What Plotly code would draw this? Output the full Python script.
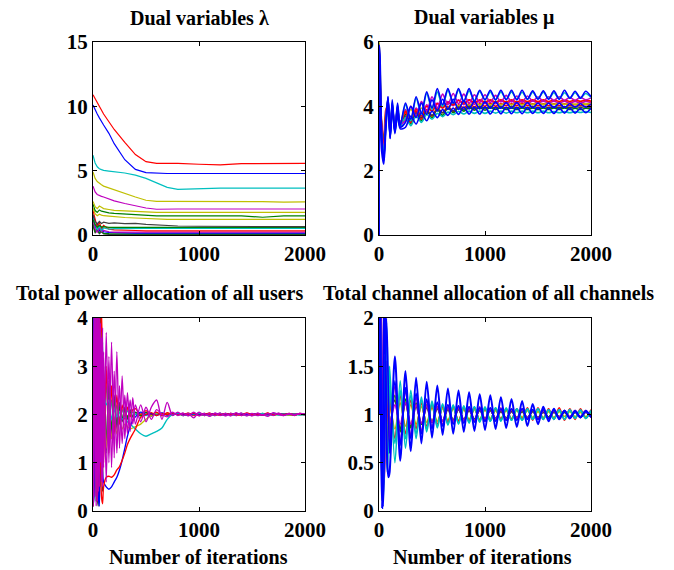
import plotly.graph_objects as go

# ---------------- DATA ----------------
X_TICKS = [0, 1000, 2000]
X_TICK_TEXT = ["0", "1000", "2000"]
LAM_TICKS = [0, 5, 10, 15]
MU_TICKS = [0, 2, 4, 6]
PW_TICKS = [0, 1, 2, 3, 4]
CH_TICKS = [0, 0.5, 1, 1.5, 2]
CH_TICK_TEXT = ["0", "0.5", "1", "1.5", "2"]

TITLES = ["Dual variables \u03bb", "Dual variables \u03bc",
          "Total power allocation of all users", "Total channel allocation of all channels"]
XLABEL = "Number of iterations"

# ---- Dual variables lambda ----
LAM_X = [0, 20, 40, 60, 80, 100, 150, 200, 300, 400, 500, 600, 700, 800, 1000, 1200, 1400, 1600, 1800, 2000]
lam_red = [10.9, 10.6, 10.3, 10.0, 9.7, 9.4, 8.8, 8.2, 7.2, 6.25, 5.7, 5.57, 5.57, 5.57, 5.5, 5.45, 5.55, 5.57, 5.57, 5.57]
lam_blue = [10.1, 9.7, 9.4, 9.1, 8.8, 8.55, 7.9, 7.1, 5.85, 5.1, 4.85, 4.8, 4.78, 4.78, 4.78, 4.78, 4.78, 4.78, 4.78, 4.78]
lam_cyan = [6.2, 5.6, 5.3, 5.15, 5.08, 5.02, 4.97, 4.92, 4.82, 4.65, 4.4, 4.05, 3.7, 3.55, 3.62, 3.65, 3.65, 3.65, 3.65, 3.65]
lam_yellow = [4.9, 4.4, 4.15, 4.0, 3.9, 3.8, 3.65, 3.5, 3.2, 2.95, 2.7, 2.62, 2.62, 2.62, 2.6, 2.58, 2.6, 2.6, 2.55, 2.58]
lam_magenta = [3.8, 3.35, 3.15, 3.05, 3.0, 2.95, 2.8, 2.65, 2.45, 2.25, 2.1, 2.0, 2.02, 2.02, 2.02, 2.02, 2.02, 2.02, 2.02, 2.02]
lam_yellow2 = [2.6, 2.2, 2.05, 2.25, 2.15, 2.05, 1.98, 1.92, 1.88, 1.83, 1.8, 1.76, 1.76, 1.76, 1.76, 1.76, 1.76, 1.76, 1.76, 1.76]
lam_green = [2.4, 1.9, 1.75, 1.95, 1.85, 1.8, 1.72, 1.68, 1.62, 1.56, 1.5, 1.48, 1.48, 1.48, 1.48, 1.45, 1.48, 1.38, 1.48, 1.48]
lam_yellow3 = [2.1, 1.65, 1.5, 1.62, 1.55, 1.5, 1.46, 1.42, 1.36, 1.32, 1.28, 1.25, 1.22, 1.22, 1.22, 1.22, 1.22, 1.22, 1.22, 1.22]
lam_gray = [1.6, 1.05, 0.85, 1.05, 0.9, 1.0, 0.9, 0.95, 0.88, 0.9, 0.82, 0.78, 0.72, 0.7, 0.68, 0.66, 0.65, 0.65, 0.65, 0.65]
lam_green3 = [1.2, 0.8, 0.6, 0.75, 0.62, 0.65, 0.6, 0.6, 0.6, 0.6, 0.6, 0.6, 0.6, 0.6, 0.6, 0.6, 0.6, 0.6, 0.6, 0.6]
lam_cyan2 = [1.3, 0.75, 0.4, 0.7, 0.35, 0.55, 0.45, 0.5, 0.52, 0.52, 0.52, 0.52, 0.52, 0.52, 0.52, 0.52, 0.52, 0.52, 0.52, 0.52]
lam_red2 = [1.9, 1.2, 0.6, 1.0, 0.5, 0.75, 0.45, 0.4, 0.35, 0.35, 0.32, 0.32, 0.32, 0.32, 0.32, 0.32, 0.32, 0.32, 0.32, 0.32]
lam_magenta2 = [1.1, 0.5, 0.2, 0.55, 0.25, 0.35, 0.25, 0.22, 0.22, 0.22, 0.22, 0.22, 0.22, 0.22, 0.22, 0.22, 0.22, 0.22, 0.22, 0.22]
lam_blue2 = [1.5, 0.55, 0.95, 0.3, 0.65, 0.25, 0.2, 0.18, 0.16, 0.15, 0.15, 0.15, 0.15, 0.15, 0.15, 0.15, 0.15, 0.15, 0.15, 0.15]
lam_green2 = [0.9, 0.25, 0.55, 0.15, 0.4, 0.12, 0.1, 0.08, 0.08, 0.08, 0.08, 0.08, 0.08, 0.08, 0.08, 0.08, 0.08, 0.08, 0.08, 0.08]
lam_gray2 = [0.7, 0.15, 0.4, 0.1, 0.25, 0.08, 0.05, 0.04, 0.04, 0.04, 0.04, 0.04, 0.04, 0.04, 0.04, 0.04, 0.04, 0.04, 0.04, 0.04]

# ---- Dual variables mu ----
MU_X = [0, 2, 10, 25, 45, 65, 85, 105, 125, 150, 175, 200,
        250, 300, 350, 400, 450, 500, 550, 600, 650, 700, 750, 800, 850, 900, 950, 1000,
        1050, 1100, 1150, 1200, 1250, 1300, 1350, 1400, 1450, 1500, 1550, 1600, 1650, 1700,
        1750, 1800, 1850, 1900, 1950, 2000]
mu_blue = [0, 5.9, 5.2, 3.0, 2.3, 3.5, 4.3, 3.0, 4.2, 3.2, 4.1, 3.4,
           4.1, 3.6, 4.3, 3.8, 4.45, 3.95, 4.55, 4.05, 4.55, 4.1, 4.55, 4.15, 4.55, 4.15, 4.5, 4.2,
           4.5, 4.2, 4.5, 4.2, 4.5, 4.2, 4.5, 4.22, 4.48, 4.22, 4.48, 4.22, 4.48, 4.22,
           4.5, 4.25, 4.47, 4.25, 4.47, 4.3]
mu_green = [0, 5.7, 4.8, 3.3, 2.7, 3.7, 4.1, 3.3, 3.9, 3.35, 3.8, 3.45,
            3.75, 3.45, 3.8, 3.55, 3.85, 3.65, 3.9, 3.72, 3.95, 3.8, 3.95, 3.85, 3.96, 3.88, 3.96, 3.88,
            3.96, 3.9, 3.96, 3.9, 3.95, 3.9, 3.95, 3.9, 3.95, 3.9, 3.95, 3.9, 3.95, 3.9,
            3.95, 3.9, 3.94, 3.9, 3.94, 3.92]
mu_red = [0, 5.6, 4.6, 3.5, 2.9, 3.9, 4.0, 3.4, 3.8, 3.4, 3.75, 3.5,
          3.8, 3.5, 3.85, 3.6, 3.9, 3.7, 3.95, 3.8, 4.0, 3.85, 4.05, 3.95, 4.08, 3.98, 4.08, 4.0,
          4.1, 4.0, 4.08, 4.02, 4.08, 4.02, 4.1, 4.02, 4.08, 4.02, 4.08, 4.02, 4.08, 4.02,
          4.08, 4.02, 4.06, 4.02, 4.06, 4.04]
mu_cyan = [0, 5.8, 5.0, 3.1, 2.5, 3.6, 4.25, 3.1, 4.15, 3.25, 4.05, 3.4,
           4.05, 3.55, 4.25, 3.75, 4.4, 3.9, 4.45, 4.0, 4.5, 4.1, 4.5, 4.15, 4.48, 4.18, 4.46, 4.2,
           4.45, 4.2, 4.45, 4.22, 4.45, 4.22, 4.44, 4.22, 4.44, 4.24, 4.44, 4.24, 4.42, 4.24,
           4.42, 4.26, 4.42, 4.26, 4.4, 4.28]
mu_magenta = [0, 5.8, 4.9, 3.2, 2.6, 3.7, 4.2, 3.15, 4.05, 3.3, 3.95, 3.45,
              3.55, 4.0, 3.7, 4.15, 3.85, 4.3, 3.95, 4.38, 4.05, 4.4, 4.08, 4.38, 4.1, 4.36, 4.12, 4.36,
              4.12, 4.34, 4.14, 4.34, 4.14, 4.32, 4.14, 4.32, 4.16, 4.3, 4.16, 4.3, 4.18, 4.3,
              4.18, 4.28, 4.18, 4.28, 4.2, 4.26]
mu_yellow = [0, 6.0, 5.3, 3.4, 2.8, 3.8, 4.1, 3.35, 3.9, 3.4, 3.8, 3.5,
             3.6, 3.9, 3.7, 3.95, 3.8, 4.0, 3.88, 4.05, 3.95, 4.1, 4.0, 4.12, 4.02, 4.12, 4.04, 4.12,
             4.04, 4.12, 4.05, 4.12, 4.05, 4.12, 4.05, 4.12, 4.06, 4.12, 4.06, 4.12, 4.06, 4.1,
             4.06, 4.1, 4.06, 4.1, 4.07, 4.1]
mu_gray = [0, 5.5, 4.5, 3.4, 2.8, 3.75, 4.0, 3.4, 3.8, 3.45, 3.75, 3.5,
           3.7, 3.55, 3.78, 3.65, 3.85, 3.72, 3.9, 3.8, 3.95, 3.85, 3.98, 3.9, 4.0, 3.92, 4.0, 3.94,
           4.0, 3.95, 4.0, 3.95, 4.0, 3.96, 4.0, 3.96, 4.0, 3.96, 4.0, 3.96, 3.99, 3.96,
           3.99, 3.96, 3.99, 3.97, 3.99, 3.97]
mu_blue2 = [0, 5.7, 4.0, 2.6, 2.2, 3.3, 4.1, 3.0, 3.9, 3.15, 3.75, 3.3,
            3.35, 3.7, 3.45, 3.8, 3.55, 3.85, 3.65, 3.9, 3.72, 3.95, 3.75, 3.98, 3.76, 3.98, 3.76, 3.98,
            3.76, 3.97, 3.77, 3.97, 3.77, 3.96, 3.77, 3.96, 3.78, 3.96, 3.78, 3.95, 3.78, 3.95,
            3.79, 3.95, 3.79, 3.94, 3.8, 3.94]
mu_magenta2 = [0, 5.6, 4.7, 3.3, 2.7, 3.65, 4.2, 3.2, 4.0, 3.35, 3.9, 3.45,
               3.9, 3.6, 3.95, 3.7, 4.05, 3.85, 4.1, 3.95, 4.15, 4.02, 4.2, 4.05, 4.2, 4.06, 4.18, 4.08,
               4.18, 4.08, 4.18, 4.08, 4.17, 4.08, 4.17, 4.08, 4.17, 4.1, 4.16, 4.1, 4.16, 4.1,
               4.16, 4.1, 4.15, 4.1, 4.15, 4.12]
mu_cyan2 = [0, 5.5, 4.3, 2.9, 2.4, 3.4, 4.0, 3.05, 3.85, 3.2, 3.7, 3.35,
            3.65, 3.4, 3.7, 3.5, 3.75, 3.6, 3.78, 3.68, 3.82, 3.74, 3.84, 3.76, 3.85, 3.78, 3.85, 3.78,
            3.85, 3.79, 3.85, 3.79, 3.85, 3.8, 3.85, 3.8, 3.85, 3.8, 3.85, 3.8, 3.84, 3.8,
            3.84, 3.8, 3.84, 3.81, 3.84, 3.81]
mu_red2 = [0, 5.75, 4.9, 3.3, 2.65, 3.7, 4.15, 3.25, 3.95, 3.35, 3.85, 3.45,
           3.85, 3.6, 3.9, 3.7, 4.0, 3.85, 4.08, 3.95, 4.12, 4.05, 4.18, 4.1, 4.2, 4.12, 4.2, 4.14,
           4.2, 4.14, 4.2, 4.14, 4.2, 4.14, 4.2, 4.15, 4.2, 4.15, 4.2, 4.15, 4.19, 4.15,
           4.19, 4.15, 4.19, 4.16, 4.19, 4.16]
mu_blue3 = [0, 5.9, 5.5, 3.2, 2.4, 3.5, 4.3, 3.05, 4.1, 3.2, 4.0, 3.35,
            3.5, 4.0, 3.65, 4.1, 3.75, 4.2, 3.85, 4.22, 3.9, 4.22, 3.9, 4.18, 3.92, 4.16, 3.92, 4.14,
            3.94, 4.14, 3.94, 4.12, 3.94, 4.12, 3.95, 4.12, 3.95, 4.1, 3.96, 4.1, 3.96, 4.1,
            3.96, 4.08, 3.97, 4.08, 3.97, 4.07]

# ---- Total power allocation ----
PW_X = [0, 10, 20, 30, 40, 50, 60, 70, 80, 90, 100,
        125, 150, 175, 200, 225, 250, 275, 300, 325, 350, 375, 400,
        450, 500, 550, 600, 650, 700, 750, 800,
        850, 900, 950, 1000, 1050, 1100, 1150, 1200, 1250, 1300, 1350, 1400,
        1450, 1500, 1550, 1600, 1650, 1700, 1750, 1800, 1850, 1900, 1950, 2000]
pw_magenta = [0.1, 4.5, 0.3, 4.5, 0.2, 4.2, 0.5, 3.9, 0.6, 3.8, 0.9,
              3.7, 1.0, 3.5, 1.1, 3.3, 1.3, 2.8, 1.5, 2.45, 1.65, 2.35, 1.8,
              2.2, 1.85, 2.15, 2.3, 1.9, 2.25, 1.98, 2.05,
              1.98, 2.02, 1.93, 2.05, 1.98, 2.02, 1.98, 2.03, 1.97, 2.02, 1.98, 2.03,
              1.97, 2.02, 1.98, 2.0, 1.96, 2.04, 2.0, 1.98, 2.02, 1.99, 2.02, 2.0]
pw_magenta2 = [0.2, 3.0, 4.5, 0.1, 4.5, 0.4, 4.0, 1.0, 3.6, 0.5, 3.3,
               0.6, 3.2, 0.9, 2.9, 1.2, 2.6, 1.4, 2.4, 1.6, 2.3, 1.8, 2.2,
               1.85, 2.15, 1.9, 2.1, 2.0, 1.95, 2.05, 1.98,
               2.03, 1.97, 2.05, 1.97, 2.02, 1.96, 2.03, 1.98, 2.02, 1.97, 2.04, 1.98,
               2.02, 1.97, 2.03, 1.99, 2.02, 1.98, 2.03, 1.98, 2.01, 1.99, 2.02, 2.0]
pw_blue = [0.1, 0.3, 4.5, 4.5, 2.0, 0.3, 0.1, 1.5, 1.2, 0.8, 0.6,
           0.5, 0.45, 0.5, 0.6, 0.7, 0.85, 1.05, 1.3, 1.55, 1.75, 1.88, 1.95,
           2.05, 2.0, 2.02, 1.98, 2.03, 1.99, 2.02, 2.0,
           2.01, 1.99, 2.02, 1.99, 2.01, 2.0, 2.02, 1.99, 2.01, 2.0, 2.02, 1.99,
           2.01, 2.0, 2.01, 1.99, 2.01, 2.0, 2.01, 2.0, 2.01, 2.0, 2.01, 2.0]
pw_red = [0.1, 4.5, 4.5, 1.0, 0.2, 2.5, 4.5, 2.0, 0.3, 0.15, 0.5,
          0.7, 0.72, 0.7, 0.75, 0.85, 0.92, 1.05, 1.2, 1.38, 1.5, 1.6, 1.7,
          1.94, 2.0, 2.04, 1.98, 2.02, 2.0, 2.03, 1.99,
          2.02, 2.0, 2.03, 1.98, 2.02, 2.0, 2.01, 1.99, 2.02, 2.0, 2.01, 1.98,
          2.03, 2.0, 2.01, 1.99, 2.02, 2.0, 2.01, 1.99, 2.02, 2.0, 2.01, 2.0]
pw_cyan = [0.2, 4.5, 3.0, 4.5, 0.5, 4.0, 2.5, 3.8, 2.8, 2.3, 2.4,
           2.2, 2.3, 1.9, 2.1, 1.95, 2.05, 1.9, 1.95, 1.85, 1.8, 1.75, 1.7,
           1.6, 1.55, 1.6, 1.65, 1.72, 1.9, 2.0, 2.02,
           1.98, 2.02, 2.0, 2.03, 1.99, 2.01, 1.98, 2.02, 2.0, 2.01, 1.99, 2.02,
           1.98, 2.01, 2.0, 2.02, 1.99, 2.0, 2.02, 1.99, 2.01, 2.0, 2.01, 2.0]
pw_yellow = [0.3, 1.5, 4.5, 2.0, 0.8, 4.5, 1.2, 0.7, 2.5, 1.4, 2.2,
             1.3, 2.0, 1.5, 1.95, 1.6, 1.85, 1.7, 1.8, 1.75, 1.7, 1.72, 1.75,
             1.8, 1.9, 1.98, 2.02, 1.99, 2.01, 2.0, 2.02,
             1.99, 2.01, 2.0, 2.02, 1.98, 2.01, 1.99, 2.02, 2.0, 2.01, 1.99, 2.0,
             2.02, 1.99, 2.01, 2.0, 2.02, 1.99, 2.0, 2.01, 1.99, 2.01, 2.0, 2.0]
pw_green = [0.1, 4.5, 1.0, 0.2, 3.5, 4.5, 0.6, 1.8, 2.9, 0.9, 2.6,
            1.4, 2.5, 1.7, 2.3, 1.8, 2.15, 1.9, 2.1, 1.95, 2.05, 1.95, 2.04,
            1.98, 2.04, 1.97, 2.03, 1.98, 2.02, 2.0, 2.02,
            1.98, 2.01, 2.0, 2.02, 1.99, 2.01, 1.98, 2.02, 2.0, 2.01, 1.99, 2.02,
            2.0, 1.99, 2.01, 2.0, 2.02, 1.99, 2.01, 2.0, 2.01, 1.99, 2.01, 2.0]
pw_gray = [0.2, 4.5, 4.5, 4.5, 0.3, 0.1, 3.0, 4.5, 1.5, 0.4, 3.0,
           1.2, 2.7, 1.5, 2.4, 1.7, 2.25, 1.85, 2.15, 1.9, 2.1, 1.95, 2.05,
           1.97, 2.05, 1.98, 2.04, 1.98, 2.02, 1.99, 2.03,
           1.98, 2.01, 2.0, 2.02, 1.98, 2.02, 2.0, 2.01, 1.99, 2.02, 2.0, 2.01,
           1.99, 2.01, 2.0, 2.02, 1.99, 2.01, 2.0, 2.01, 1.99, 2.01, 2.0, 2.0]
pw_red2 = [0.1, 0.5, 2.5, 4.5, 4.5, 0.5, 0.2, 2.8, 4.2, 3.0, 1.0,
           3.0, 1.2, 2.6, 1.6, 2.4, 1.8, 2.2, 1.9, 2.15, 1.95, 2.1, 2.12,
           2.0, 2.08, 2.0, 2.05, 1.98, 2.04, 2.0, 2.02,
           1.99, 2.03, 1.98, 2.02, 2.0, 2.03, 1.99, 2.01, 2.0, 2.02, 1.98, 2.01,
           2.02, 1.99, 2.01, 2.0, 2.03, 1.99, 2.02, 2.0, 2.01, 1.98, 2.02, 2.0]
pw_cyan2 = [0.1, 2.0, 4.5, 0.4, 1.5, 4.5, 3.8, 0.5, 1.2, 3.5, 2.0,
            2.6, 1.6, 2.3, 1.8, 2.2, 1.9, 2.1, 1.95, 2.08, 1.98, 2.05, 2.0,
            2.03, 1.98, 2.02, 2.0, 2.03, 1.99, 2.01, 2.0,
            2.02, 1.99, 2.01, 2.0, 2.02, 1.98, 2.01, 2.0, 2.02, 1.99, 2.01, 2.0,
            2.02, 1.99, 2.0, 2.01, 2.0, 2.02, 1.99, 2.01, 2.0, 2.01, 1.99, 2.0]

# ---- Total channel allocation ----
CH_X = [0, 10, 20, 30, 40, 50, 60, 70, 80, 90,
        100, 150, 200, 250, 300, 350, 400, 450, 500, 550,
        600, 650, 700, 750, 800, 850, 900, 950, 1000, 1050,
        1100, 1150, 1200, 1250, 1300, 1350, 1400, 1450, 1500, 1550,
        1600, 1650, 1700, 1750, 1800, 1850, 1900, 1950, 2000]
ch_blue = [1.0, 2.4, 0.6, 0.03, 1.2, 2.4, 1.8, 0.9, 0.45, 0.35,
           0.4, 1.6, 0.52, 1.45, 0.62, 1.38, 0.7, 1.34, 0.76, 1.3,
           0.79, 1.27, 0.8, 1.25, 0.82, 1.23, 0.83, 1.21, 0.84, 1.2,
           0.85, 1.18, 0.86, 1.16, 0.87, 1.14, 0.88, 1.11, 0.9, 1.08,
           0.93, 1.06, 0.95, 1.04, 0.96, 1.03, 0.97, 1.03, 0.98]
ch_cyan = [1.0, 2.2, 1.4, 0.3, 0.1, 0.6, 1.4, 1.95, 1.6, 1.0,
           1.5, 0.5, 1.35, 0.65, 1.25, 0.75, 1.18, 0.82, 1.14, 0.86,
           1.11, 0.89, 1.1, 0.9, 1.09, 0.91, 1.08, 0.92, 1.08, 0.93,
           1.07, 0.93, 1.07, 0.94, 1.06, 0.94, 1.06, 0.95, 1.06, 0.95,
           1.05, 0.95, 1.05, 0.95, 1.05, 0.96, 1.04, 0.96, 1.04]
ch_magenta = [1.0, 2.4, 1.5, 0.4, 0.15, 0.5, 1.2, 1.55, 1.5, 1.1,
              0.7, 1.3, 0.7, 1.25, 0.78, 1.18, 0.83, 1.14, 0.87, 1.12,
              0.9, 1.1, 0.91, 1.09, 0.92, 1.08, 0.93, 1.08, 0.93, 1.07,
              0.94, 1.07, 0.94, 1.06, 0.95, 1.06, 0.95, 1.05, 0.95, 1.05,
              0.96, 1.05, 0.96, 1.04, 0.96, 1.04, 0.97, 1.04, 0.97]
ch_red = [1.0, 1.5, 2.2, 1.0, 0.3, 0.5, 1.0, 1.4, 1.2, 0.9,
          1.2, 0.75, 1.2, 0.8, 1.15, 0.85, 1.12, 0.88, 1.1, 0.9,
          1.08, 0.92, 1.08, 0.93, 1.07, 0.93, 1.07, 0.94, 1.06, 0.94,
          1.06, 0.95, 1.06, 0.95, 1.06, 0.95, 1.07, 0.94, 1.07, 0.95,
          1.06, 0.95, 1.07, 0.94, 1.06, 0.95, 1.06, 0.96, 1.05]
ch_green = [1.0, 2.0, 1.7, 0.6, 0.25, 0.4, 0.9, 1.3, 1.35, 1.15,
            0.85, 1.2, 0.82, 1.16, 0.86, 1.12, 0.9, 1.1, 0.92, 1.08,
            0.93, 1.07, 0.94, 1.07, 0.94, 1.06, 0.95, 1.06, 0.95, 1.05,
            0.95, 1.05, 0.96, 1.05, 0.96, 1.04, 0.96, 1.04, 0.96, 1.04,
            0.97, 1.04, 0.97, 1.03, 0.97, 1.03, 0.97, 1.03, 0.98]
ch_yellow = [1.0, 2.3, 0.9, 0.1, 0.6, 1.5, 1.5, 1.0, 0.6, 0.7,
             1.1, 0.85, 1.12, 0.88, 1.1, 0.9, 1.08, 0.92, 1.07, 0.93,
             1.06, 0.94, 1.06, 0.94, 1.05, 0.95, 1.05, 0.95, 1.05, 0.96,
             1.04, 0.96, 1.04, 0.96, 1.04, 0.97, 1.04, 0.97, 1.03, 0.97,
             1.03, 0.97, 1.03, 0.98, 1.03, 0.98, 1.02, 0.98, 1.02]
ch_gray = [1.0, 2.2, 1.0, 0.2, 0.5, 1.3, 1.6, 1.2, 0.7, 0.6,
           0.8, 1.15, 0.85, 1.12, 0.88, 1.08, 0.9, 1.07, 0.92, 1.06,
           0.93, 1.05, 0.94, 1.05, 0.95, 1.04, 0.95, 1.04, 0.96, 1.04,
           0.96, 1.03, 0.96, 1.03, 0.97, 1.03, 0.97, 1.03, 0.97, 1.02,
           0.97, 1.02, 0.98, 1.02, 0.98, 1.02, 0.98, 1.02, 0.98]
ch_blue2 = [1.0, 2.4, 1.3, 0.2, 0.05, 0.6, 1.5, 2.0, 1.7, 1.1,
            0.6, 1.35, 0.68, 1.28, 0.75, 1.22, 0.8, 1.16, 0.85, 1.13,
            0.88, 1.1, 0.9, 1.09, 0.91, 1.08, 0.92, 1.07, 0.93, 1.07,
            0.93, 1.06, 0.94, 1.06, 0.94, 1.06, 0.95, 1.05, 0.95, 1.05,
            0.96, 1.05, 0.96, 1.04, 0.96, 1.04, 0.97, 1.04, 0.97]
ch_cyan2 = [1.0, 1.9, 0.8, 0.2, 0.8, 1.6, 1.3, 0.6, 0.4, 0.8,
            1.3, 0.7, 1.25, 0.75, 1.2, 0.8, 1.15, 0.85, 1.12, 0.88,
            1.1, 0.9, 1.09, 0.91, 1.08, 0.92, 1.08, 0.93, 1.07, 0.93,
            1.07, 0.94, 1.06, 0.94, 1.06, 0.94, 1.06, 0.95, 1.06, 0.95,
            1.05, 0.95, 1.05, 0.95, 1.05, 0.96, 1.05, 0.96, 1.04]
ch_magenta2 = [1.0, 1.6, 2.1, 1.2, 0.4, 0.3, 0.9, 1.5, 1.5, 1.2,
               0.9, 1.1, 0.9, 1.12, 0.9, 1.1, 0.91, 1.09, 0.92, 1.08,
               0.93, 1.07, 0.93, 1.07, 0.94, 1.06, 0.94, 1.06, 0.95, 1.06,
               0.95, 1.05, 0.95, 1.05, 0.96, 1.05, 0.96, 1.05, 0.96, 1.04,
               0.96, 1.04, 0.97, 1.04, 0.97, 1.04, 0.97, 1.03, 0.97]

# ---------------- STYLE ----------------
B = "rgb(0,0,255)"
G = "rgb(0,128,0)"
R = "rgb(255,0,0)"
C = "rgb(0,191,191)"
M = "rgb(191,0,191)"
Y = "rgb(191,191,0)"
K = "rgb(64,64,64)"
FONT = "Liberation Serif"

panels = [
    ("x", "y", LAM_X, "linear", 1.2,
     [(lam_gray2, K), (lam_green2, G), (lam_blue2, B), (lam_magenta2, M),
      (lam_red2, R), (lam_cyan2, C), (lam_green3, G), (lam_gray, K),
      (lam_yellow3, Y), (lam_green, G), (lam_yellow2, Y), (lam_magenta, M),
      (lam_yellow, Y), (lam_cyan, C), (lam_blue, B), (lam_red, R)]),
    ("x2", "y2", MU_X, "spline", 1.6,
     [(mu_green, G), (mu_red, R), (mu_yellow, Y), (mu_gray, K), (mu_cyan2, C),
      (mu_magenta2, M), (mu_red2, R), (mu_magenta, M), (mu_cyan, C),
      (mu_blue3, B), (mu_blue2, B), (mu_blue, B)]),
    ("x3", "y3", PW_X, "spline", 1.35,
     [(pw_gray, K), (pw_green, G), (pw_yellow, Y), (pw_cyan2, C), (pw_red2, R),
      (pw_cyan, C), (pw_blue, B), (pw_red, R), (pw_magenta2, M), (pw_magenta, M)]),
    ("x4", "y4", CH_X, "spline", 1.6,
     [(ch_gray, K), (ch_green, G), (ch_yellow, Y), (ch_red, R), (ch_magenta2, M),
      (ch_cyan2, C), (ch_magenta, M), (ch_cyan, C), (ch_blue2, B), (ch_blue, B)]),
]

fig = go.Figure()
for xa, ya, xs, shape, lw, series in panels:
    for ys, col in series:
        if len(ys) != len(xs):
            raise ValueError(f"length mismatch in {xa}: {len(ys)} vs {len(xs)}")
        w = 2.0 if (xa == "x4" and ys is ch_blue) else lw
        fig.add_trace(go.Scatter(x=xs, y=ys, xaxis=xa, yaxis=ya, mode="lines",
                                 line=dict(color=col, width=w, shape=shape, smoothing=0.8),
                                 showlegend=False, hoverinfo="skip"))


def W(px):
    return px / 674.0


def H(px):
    return 1 - px / 570.0


tickfont = dict(family=FONT, size=21, color="black", weight="bold")
common = dict(showline=True, linecolor="black", linewidth=1.2, mirror="ticks",
              ticks="inside", ticklen=4, tickcolor="black", tickwidth=1,
              showgrid=False, zeroline=False, tickfont=tickfont, fixedrange=True,
              automargin=False)

xdom_l = [W(93), W(305)]
xdom_r = [W(379), W(591)]
ydom_t = [H(235), H(42)]
ydom_b = [H(511), H(318)]

layout = dict(
    template="none",
    width=674, height=570, margin=dict(l=0, r=0, t=0, b=0, pad=0, autoexpand=False),
    paper_bgcolor="white", plot_bgcolor="white", showlegend=False,
    xaxis=dict(domain=xdom_l, anchor="y", range=[0, 2000], tickvals=X_TICKS, ticktext=X_TICK_TEXT, **common),
    yaxis=dict(domain=ydom_t, anchor="x", range=[0, 15], tickvals=LAM_TICKS, **common),
    xaxis2=dict(domain=xdom_r, anchor="y2", range=[0, 2000], tickvals=X_TICKS, ticktext=X_TICK_TEXT, **common),
    yaxis2=dict(domain=ydom_t, anchor="x2", range=[0, 6], tickvals=MU_TICKS, **common),
    xaxis3=dict(domain=xdom_l, anchor="y3", range=[0, 2000], tickvals=X_TICKS, ticktext=X_TICK_TEXT, **common),
    yaxis3=dict(domain=ydom_b, anchor="x3", range=[0, 4], tickvals=PW_TICKS, **common),
    xaxis4=dict(domain=xdom_r, anchor="y4", range=[0, 2000], tickvals=X_TICKS, ticktext=X_TICK_TEXT, **common),
    yaxis4=dict(domain=ydom_b, anchor="x4", range=[0, 2], tickvals=CH_TICKS, ticktext=CH_TICK_TEXT, **common),
)
fig.update_layout(**layout)

title_font = dict(family=FONT, size=20, color="black", weight="bold")
title_pos = [(199, 18), (484, 18), (159, 293), (488, 293), (198, 557), (482, 557)]
texts = TITLES + [XLABEL, XLABEL]
for (px, py), t in zip(title_pos, texts):
    fig.add_annotation(x=W(px), y=H(py), xref="paper", yref="paper", text=t,
                       showarrow=False, xanchor="center", yanchor="middle", font=title_font)

fig.write_html("out.html", config={"displayModeBar": False},
               post_script="document.body.style.margin='0px';")
